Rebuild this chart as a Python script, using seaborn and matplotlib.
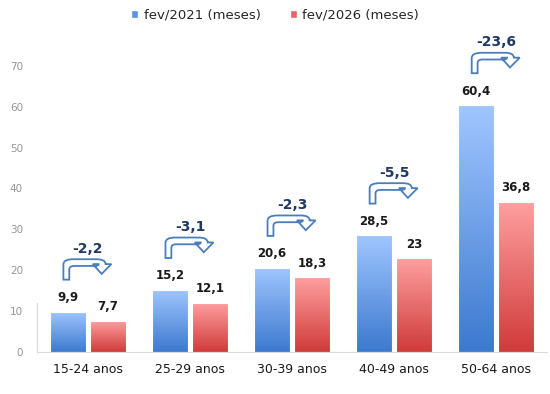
import numpy as np
import pandas as pd
import matplotlib
matplotlib.use("Agg")
import matplotlib.pyplot as plt
import seaborn as sns
from matplotlib.path import Path
from matplotlib.patches import PathPatch, Patch
from matplotlib.colors import LinearSegmentedColormap

# data
faixas = ["15-24 anos", "25-29 anos", "30-39 anos", "40-49 anos", "50-64 anos"]
fev2021 = [9.9, 15.2, 20.6, 28.5, 60.4]
fev2026 = [7.7, 12.1, 18.3, 23.0, 36.8]
series = ["fev/2021 (meses)", "fev/2026 (meses)"]
yticks = [0, 10, 20, 30, 40, 50, 60, 70]

df = pd.DataFrame({
    "faixa": faixas * 2,
    "serie": [series[0]] * len(faixas) + [series[1]] * len(faixas),
    "valor": fev2021 + fev2026,
})

sns.set_style("white")
plt.rcParams["font.family"] = ["DejaVu Sans"]

fig = plt.figure(figsize=(5.5, 3.94), dpi=100)
ax = fig.add_axes([0.067, 0.1066, 0.928, 0.83])

sns.barplot(data=df, x="faixa", y="valor", hue="serie", order=faixas,
            hue_order=series, width=0.784, gap=0.1, ax=ax,
            palette=["#6FA2EE", "#EE7272"], legend=False)

# gradient fill for each bar (light on top, darker at bottom)
grad_blue = LinearSegmentedColormap.from_list("b", ["#3C79CF", "#A0C6FF"])
grad_red = LinearSegmentedColormap.from_list("r", ["#D03A3A", "#FFA0A0"])
grad = np.linspace(0, 1, 256).reshape(-1, 1)
bars = [p for p in ax.patches if p.get_height() > 0]
for i, bar in enumerate(bars):
    cmap = grad_blue if i < len(faixas) else grad_red
    x0, w, h = bar.get_x(), bar.get_width(), bar.get_height()
    img = ax.imshow(grad, cmap=cmap, origin="lower", aspect="auto",
                    extent=[x0, x0 + w, 0, h], zorder=2)
    img.set_clip_path(bar)
    bar.set_facecolor("none")
    bar.set_edgecolor("#FFFFFF")
    bar.set_linewidth(0.8)
    bar.set_zorder(3)
ax.set_xlim(-0.5, len(faixas) - 0.5)
ax.set_ylim(0, 80)

def fmt(v):
    return f"{v:g}".replace(".", ",")

# value labels
for bar in bars:
    v = bar.get_height()
    ax.text(bar.get_x() + bar.get_width() / 2, v + 3.4, fmt(v),
            ha="center", va="center", fontsize=8.5, fontweight="bold",
            color="#1A1A1A", zorder=5)

# bent arrows with the difference
verts = [(0, 0), (0, 0.75), (0, 1), (0.2, 1), (0.68, 1), (0.86, 1), (0.86, 0.76),
         (0.98, 0.76), (0.78, 0.28), (0.60, 0.76), (0.72, 0.76), (0.72, 0.67),
         (0.64, 0.67), (0.22, 0.67), (0.12, 0.67), (0.12, 0.5), (0.12, 0), (0, 0)]
codes = [Path.MOVETO, Path.LINETO, Path.CURVE3, Path.CURVE3, Path.LINETO,
         Path.CURVE3, Path.CURVE3, Path.LINETO, Path.LINETO, Path.LINETO,
         Path.LINETO, Path.CURVE3, Path.CURVE3, Path.LINETO, Path.CURVE3,
         Path.CURVE3, Path.LINETO, Path.CLOSEPOLY]
aw, ah = 0.48, 5.0
for i, (a, b) in enumerate(zip(fev2021, fev2026)):
    top = max(a, b)
    x0 = i - aw / 2
    y0 = top + 7.8
    pts = [(x0 + u * aw, y0 + v * ah) for u, v in verts]
    ax.add_patch(PathPatch(Path(pts, codes), facecolor="white",
                           edgecolor="#4A7EBB", linewidth=1.3, zorder=5))
    ax.text(i, top + 15.4, fmt(round(b - a, 1)), ha="center", va="center",
            fontsize=10, fontweight="bold", color="#1F3864", zorder=5)

ax.set_yticks(yticks)
ax.tick_params(axis="y", labelsize=7.5, labelcolor="#959595", length=0, pad=10)
ax.tick_params(axis="x", labelsize=9, labelcolor="#1A1A1A", length=0, pad=8)
ax.set_xlabel("")
ax.set_ylabel("")
for s in ["top", "right"]:
    ax.spines[s].set_visible(False)
ax.spines["bottom"].set_color("#D9D9D9")
ax.spines["left"].set_color("#D9D9D9")
ax.spines["left"].set_bounds(0, 12)

handles = [Patch(facecolor="#5B92E5"), Patch(facecolor="#E86464")]
fig.legend(handles, series, loc="center", bbox_to_anchor=(0.5, 0.962), ncol=2,
           frameon=False, fontsize=9.5, handlelength=0.55, handleheight=0.55,
           handletextpad=0.4, columnspacing=2.2)

fig.savefig("out.png", dpi=100)
